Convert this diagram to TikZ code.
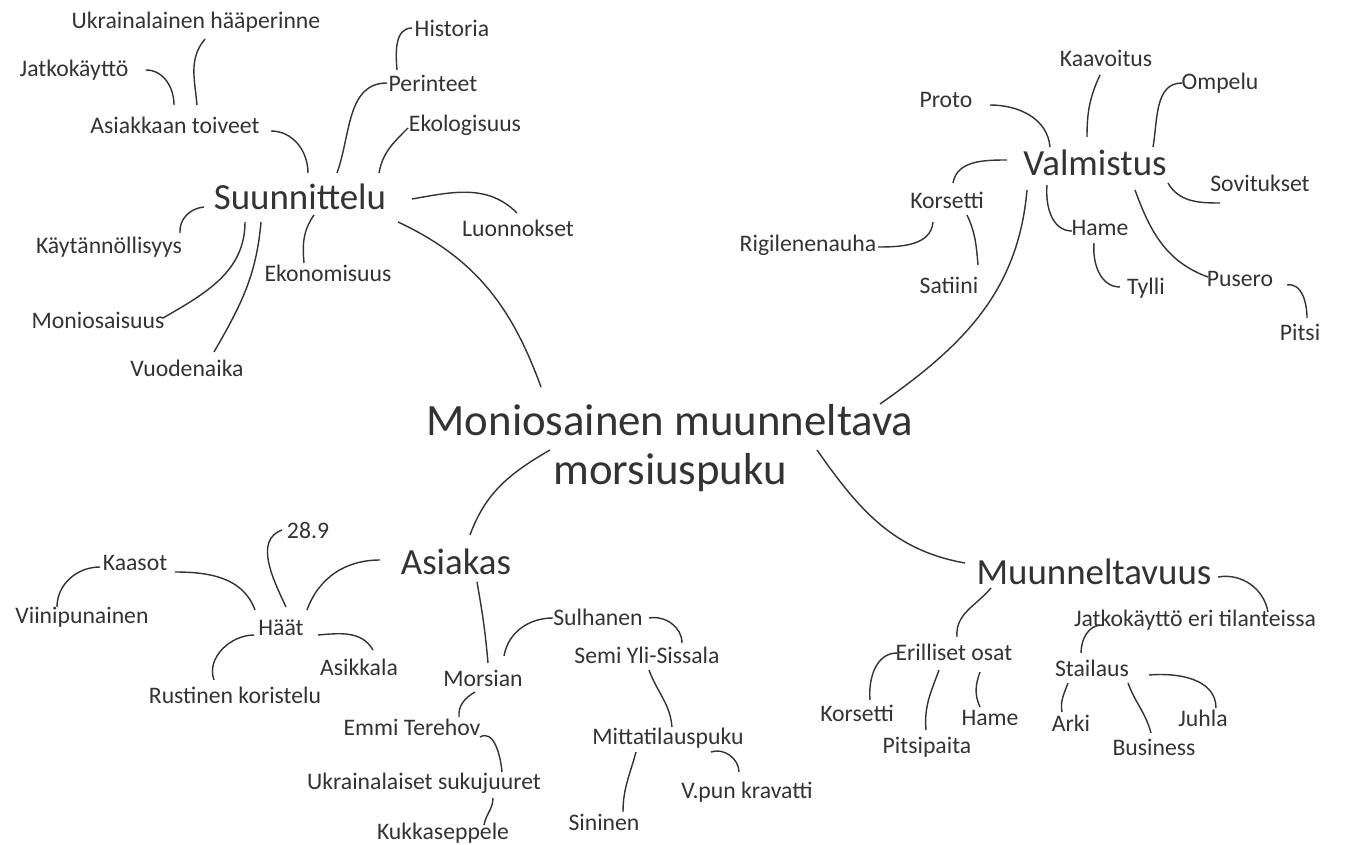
\documentclass[tikz,border=0pt]{standalone}
\usepackage{fontspec}
\setmainfont{Carlito}
\usetikzlibrary{calc}
\definecolor{ink}{HTML}{333333}

\begin{document}
\begin{tikzpicture}[x=0.02cm,y=0.02cm,
  leaf/.style={inner sep=1pt, text=ink, font=\fontsize{13.5}{15}\selectfont},
  branch/.style={inner sep=1pt, text=ink, font=\fontsize{21}{24}\selectfont},
  hub/.style={inner sep=1pt, text=ink, align=center, font=\fontsize{25.5}{28.4}\selectfont},
  link/.style={draw=ink, line width=0.8pt}]
\fill[white] (0,0) rectangle (1352,-845);
\useasboundingbox (0,0) rectangle (1352,-845);

\node[hub] (root) at (670,-448) {Moniosainen muunneltava\\morsiuspuku};

% Suunnittelu
\node[branch] (suun) at (300,-197) {Suunnittelu};
\node[leaf] (s_ukr) at (196,-22) {Ukrainalainen hääperinne};
\node[leaf] (s_jatko) at (74,-70) {Jatkokäyttö};
\node[leaf] (s_hist) at (452,-28) {Historia};
\node[leaf] (s_per) at (433,-83) {Perinteet};
\node[leaf] (s_toiv) at (175,-125) {Asiakkaan toiveet};
\node[leaf] (s_eko) at (465,-125) {Ekologisuus};
\node[leaf] (s_luon) at (518,-228) {Luonnokset};
\node[leaf] (s_kayt) at (109,-247) {Käytännöllisyys};
\node[leaf] (s_ekon) at (328,-273) {Ekonomisuus};
\node[leaf] (s_moni) at (98,-320) {Moniosaisuus};
\node[leaf] (s_vuod) at (187,-368) {Vuodenaika};
\draw[link] ($(s_jatko)+(72,0)$) to[out=0,in=90] ($(s_toiv)+(-1,20)$);
\draw[link] ($(s_ukr)+(9,-17)$) to[out=-130,in=95] ($(s_toiv)+(22,20)$);
\draw[link] ($(s_toiv)+(96,-6)$) to[out=0,in=90] ($(suun)+(8,24)$);
\draw[link] ($(s_hist)+(-40,0)$) to[out=180,in=95] ($(s_per)+(-36,13)$);
\draw[link] ($(s_per)+(-46,0)$) to[out=180,in=70] ($(suun)+(37,24)$);
\draw[link] ($(s_eko)+(-57,-3)$) to[out=-135,in=80] ($(suun)+(79,24)$);
\draw[link] ($(suun)+(112,-2)$) to[out=10,in=135] ($(s_luon)+(-1,15)$);
\draw[link] ($(suun)+(-96,-10)$) to[out=185,in=95] ($(s_kayt)+(71,14)$);
\draw[link] ($(suun)+(14,-18)$) to[out=-125,in=95] ($(s_ekon)+(-24,10)$);
\draw[link] ($(suun)+(-55,-25)$) to[out=-90,in=30] ($(s_moni)+(65,2)$);
\draw[link] ($(suun)+(-39,-25)$) to[out=-95,in=60] ($(s_vuod)+(27,16)$);
\draw[link] ($(suun)+(98,-25)$) to[out=-25,in=110] ($(root)+(-129,61)$);

% Valmistus
\node[branch] (valm) at (1095,-163) {Valmistus};
\node[leaf] (v_kaav) at (1106,-58) {Kaavoitus};
\node[leaf] (v_omp) at (1220,-83) {Ompelu};
\node[leaf] (v_proto) at (946,-100) {Proto};
\node[leaf] (v_kors) at (947,-200) {Korsetti};
\node[leaf] (v_sov) at (1260,-183) {Sovitukset};
\node[leaf] (v_rig) at (808,-245) {Rigilenenauha};
\node[leaf] (v_hame) at (1100,-228) {Hame};
\node[leaf] (v_sat) at (949,-285) {Satiini};
\node[leaf] (v_tyl) at (1146,-288) {Tylli};
\node[leaf] (v_pus) at (1240,-279) {Pusero};
\node[leaf] (v_pitsi) at (1300,-332) {Pitsi};
\draw[link] ($(v_proto)+(44,-5)$) to[out=0,in=95] ($(valm)+(-45,16)$);
\draw[link] ($(v_kaav)+(-6,-17)$) to[out=-115,in=90] ($(valm)+(-8,26)$);
\draw[link] ($(v_omp)+(-38,0)$) to[out=180,in=80] ($(valm)+(58,16)$);
\draw[link] ($(valm)+(-88,3)$) to[out=180,in=80] ($(v_kors)+(6,17)$);
\draw[link] ($(valm)+(73,-20)$) to[out=-60,in=180] ($(v_sov)+(-40,-20)$);
\draw[link] ($(valm)+(-48,-22)$) to[out=-95,in=180] ($(v_hame)+(-28,-3)$);
\draw[link] ($(v_hame)+(-6,-15)$) to[out=-95,in=180] ($(v_tyl)+(-26,1)$);
\draw[link] ($(valm)+(40,-27)$) to[out=-70,in=160] ($(v_pus)+(-32,2)$);
\draw[link] ($(v_pus)+(47,-6)$) to[out=10,in=90] ($(v_pitsi)+(7,14)$);
\draw[link] ($(v_kors)+(-14,-22)$) to[out=-95,in=0] ($(v_rig)+(70,-2)$);
\draw[link] ($(v_kors)+(20,-15)$) to[out=-65,in=95] ($(v_sat)+(29,20)$);
\draw[link] ($(valm)+(-68,-27)$) to[out=-95,in=35] ($(root)+(210,44)$);

% Asiakas
\node[branch] (asiak) at (456,-562) {Asiakas};
\node[leaf] (a_289) at (308,-530) {28.9};
\node[leaf] (a_kaas) at (135,-563) {Kaasot};
\node[leaf] (a_viini) at (82,-617) {Viinipunainen};
\node[leaf] (a_haat) at (281,-628) {Häät};
\node[leaf] (a_asik) at (359,-667) {Asikkala};
\node[leaf] (a_rust) at (235,-695) {Rustinen koristelu};
\node[leaf] (a_mors) at (483,-678) {Morsian};
\node[leaf] (a_emmi) at (412,-727) {Emmi Terehov};
\node[leaf] (a_ukr) at (424,-783) {Ukrainalaiset sukujuuret};
\node[leaf] (a_kukka) at (443,-833) {Kukkaseppele};
\node[leaf] (a_sulh) at (598,-617) {Sulhanen};
\node[leaf] (a_semi) at (647,-655) {Semi Yli-Sissala};
\node[leaf] (a_mitta) at (668,-738) {Mittatilauspuku};
\node[leaf] (a_sini) at (604,-822) {Sininen};
\node[leaf] (a_krav) at (747,-792) {V.pun kravatti};
\draw[link] ($(root)+(-120,-2)$) to[out=-150,in=70] ($(asiak)+(14,27)$);
\draw[link] ($(asiak)+(-76,2)$) to[out=180,in=70] ($(a_haat)+(26,18)$);
\draw[link] ($(a_289)+(-26,0)$) to[out=-160,in=115] ($(a_haat)+(5,21)$);
\draw[link] ($(a_kaas)+(40,-9)$) to[out=0,in=110] ($(a_haat)+(-26,18)$);
\draw[link] ($(a_kaas)+(-35,-4)$) to[out=180,in=90] ($(a_viini)+(-25,10)$);
\draw[link] ($(a_haat)+(-27,-7)$) to[out=180,in=110] ($(a_rust)+(-21,15)$);
\draw[link] ($(a_haat)+(37,-7)$) to[out=5,in=120] ($(a_asik)+(14,17)$);
\draw[link] ($(asiak)+(21,-20)$) to[out=-80,in=95] ($(a_mors)+(5,15)$);
\draw[link] ($(a_mors)+(21,22)$) to[out=80,in=180] ($(a_sulh)+(-45,-1)$);
\draw[link] ($(a_sulh)+(51,-1)$) to[out=10,in=90] ($(a_semi)+(35,12)$);
\draw[link] ($(a_semi)+(2,-15)$) to[out=-70,in=95] ($(a_mitta)+(4,11)$);
\draw[link] ($(a_mitta)+(-32,-14)$) to[out=-105,in=90] ($(a_sini)+(19,10)$);
\draw[link] ($(a_mitta)+(43,-14)$) to[out=20,in=90] ($(a_krav)+(-8,20)$);
\draw[link] ($(a_mors)+(-8,-14)$) to[out=-150,in=95] ($(a_emmi)+(47,10)$);
\draw[link] ($(a_emmi)+(68,-10)$) to[out=30,in=95] ($(a_ukr)+(78,11)$);
\draw[link] ($(a_ukr)+(69,-15)$) to[out=-90,in=80] ($(a_kukka)+(41,8)$);

% Muunneltavuus
\node[branch] (muun) at (1094,-572) {Muunneltavuus};
\node[leaf] (m_jatko) at (1195,-620) {Jatkokäyttö eri tilanteissa};
\node[leaf] (m_eril) at (954,-652) {Erilliset osat};
\node[leaf] (m_stail) at (1092,-668) {Stailaus};
\node[leaf] (m_kors) at (857,-713) {Korsetti};
\node[leaf] (m_hame) at (990,-718) {Hame};
\node[leaf] (m_pitsi) at (927,-747) {Pitsipaita};
\node[leaf] (m_arki) at (1071,-723) {Arki};
\node[leaf] (m_juhla) at (1203,-718) {Juhla};
\node[leaf] (m_bus) at (1154,-747) {Business};
\draw[link] ($(root)+(147,-2)$) to[out=-55,in=170] ($(muun)+(-129,9)$);
\draw[link] ($(muun)+(124,-5)$) to[out=10,in=100] ($(m_jatko)+(73,8)$);
\draw[link] ($(muun)+(-103,-16)$) to[out=-130,in=95] ($(m_eril)+(3,15)$);
\draw[link] ($(m_eril)+(-57,-1)$) to[out=180,in=95] ($(m_kors)+(13,13)$);
\draw[link] ($(m_eril)+(-15,-18)$) to[out=-110,in=95] ($(m_pitsi)+(-1,17)$);
\draw[link] ($(m_eril)+(26,-20)$) to[out=-110,in=115] ($(m_hame)+(-10,11)$);
\draw[link] ($(m_jatko)+(-93,-5)$) to[out=180,in=90] ($(m_stail)+(-11,15)$);
\draw[link] ($(m_stail)+(-24,-15)$) to[out=-110,in=100] ($(m_arki)+(-9,11)$);
\draw[link] ($(m_stail)+(36,-15)$) to[out=-70,in=105] ($(m_bus)+(-3,14)$);
\draw[link] ($(m_stail)+(57,-7)$) to[out=5,in=90] ($(m_juhla)+(13,10)$);
\end{tikzpicture}
\end{document}
